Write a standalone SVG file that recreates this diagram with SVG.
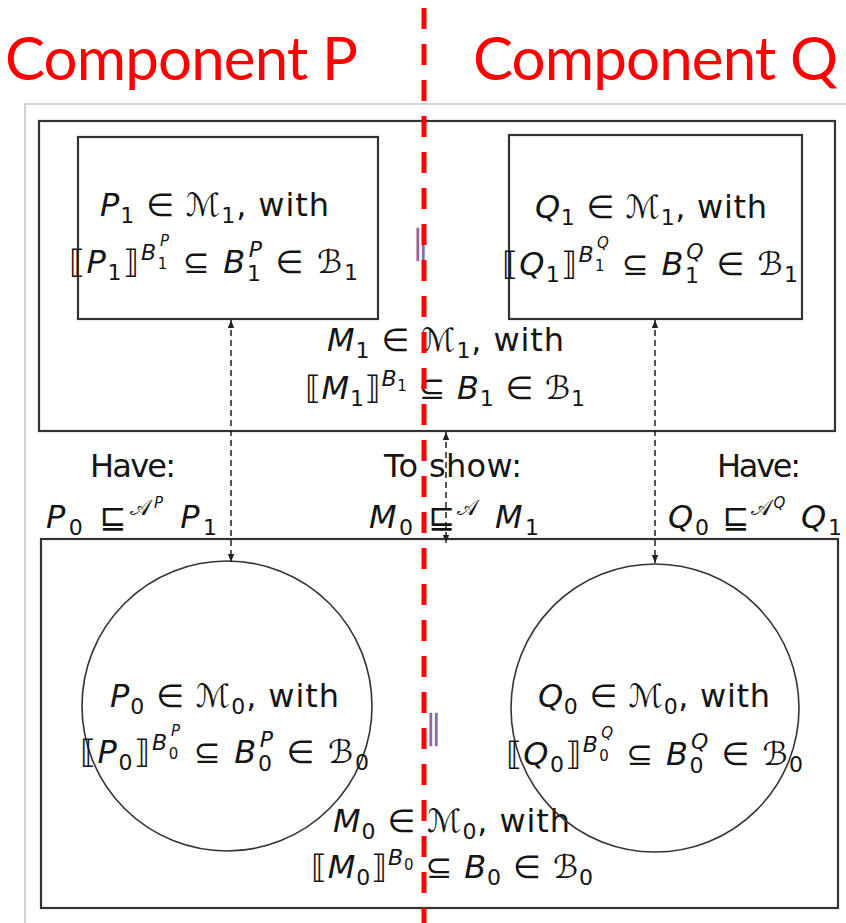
<svg xmlns="http://www.w3.org/2000/svg" width="846" height="923" viewBox="0 0 846 923">
<style>
.frame{fill:none;stroke:#c4c4c4;stroke-width:1.5}
.box{fill:none;stroke:#333;stroke-width:2.2}
.circ{fill:none;stroke:#333;stroke-width:1.6}
.m{font-family:"DejaVu Sans",sans-serif;font-size:32px;fill:#151515}
.i{font-style:italic}
.s{font-size:22px}
.ss{font-size:15px}
.title{font-family:Lato,"Open Sans",sans-serif;font-size:60px;fill:#ff0000}
.par{font-family:"DejaVu Sans",sans-serif;font-size:34px;fill:#8468a8}
.arr{stroke:#222;stroke-width:1.5;stroke-dasharray:6 4;fill:none}
.red{stroke:#ff0000;stroke-width:5;stroke-dasharray:21 15;fill:none}
</style>
<defs>
<marker id="ah" viewBox="0 0 10 10" refX="10" refY="5" markerWidth="10" markerHeight="8" orient="auto-start-reverse" markerUnits="userSpaceOnUse"><path d="M0,1 L10,5 L0,9 z" fill="#222"/></marker>
</defs>
<rect width="846" height="923" fill="#fff"/>
<path class="frame" d="M25,923 V104 H846"/>

<g id="titleP"><text class="title" x="5" y="80" textLength="353">Component P</text></g>
<g id="titleQ"><text class="title" x="473" y="80" textLength="365">Component Q</text></g>

<g id="M1box">
<rect class="box" x="39" y="121" width="796" height="310"/>
<text class="m" x="327" y="351" textLength="237"><tspan class="i">M</tspan><tspan class="s" dy="7">1</tspan><tspan dy="-7"> ∈ ℳ</tspan><tspan class="s" dy="7">1</tspan><tspan dy="-7">, with</tspan></text>
<text class="m" x="305" y="399" textLength="280">⟦<tspan class="i">M</tspan><tspan class="s" dy="7">1</tspan><tspan dy="-7">⟧</tspan><tspan class="i s" dy="-13">B</tspan><tspan class="ss" dy="5">1</tspan><tspan dy="8"> ⊆ </tspan><tspan class="i">B</tspan><tspan class="s" dy="7">1</tspan><tspan dy="-7"> ∈ ℬ</tspan><tspan class="s" dy="7">1</tspan></text>
</g>

<g id="P1">
<rect class="box" x="78" y="137" width="300" height="182"/>
<text class="m" x="100" y="216" textLength="229"><tspan class="i">P</tspan><tspan class="s" dy="7">1</tspan><tspan dy="-7"> ∈ ℳ</tspan><tspan class="s" dy="7">1</tspan><tspan dy="-7">, with</tspan></text>
<text class="m" x="69" y="273" textLength="289">⟦<tspan class="i">P</tspan><tspan class="s" dy="7">1</tspan><tspan dy="-7">⟧</tspan><tspan class="i s" dy="-13">B</tspan><tspan class="ss" dy="9">1</tspan><tspan class="i ss" dx="-9" dy="-23">P</tspan><tspan dy="27"> ⊆ </tspan><tspan class="i">B</tspan><tspan class="s" dy="8">1</tspan><tspan class="i s" dx="-14" dy="-24">P</tspan><tspan dy="16"> ∈ ℬ</tspan><tspan class="s" dy="7">1</tspan></text>
</g>

<g id="Q1">
<rect class="box" x="509" y="135" width="293" height="184"/>
<text class="m" x="535" y="218" textLength="232"><tspan class="i">Q</tspan><tspan class="s" dy="7">1</tspan><tspan dy="-7"> ∈ ℳ</tspan><tspan class="s" dy="7">1</tspan><tspan dy="-7">, with</tspan></text>
<text class="m" x="502" y="275" textLength="296">⟦<tspan class="i">Q</tspan><tspan class="s" dy="7">1</tspan><tspan dy="-7">⟧</tspan><tspan class="i s" dy="-13">B</tspan><tspan class="ss" dy="9">1</tspan><tspan class="i ss" dx="-9" dy="-23">Q</tspan><tspan dy="27"> ⊆ </tspan><tspan class="i">B</tspan><tspan class="s" dy="8">1</tspan><tspan class="i s" dx="-14" dy="-24">Q</tspan><tspan dy="16"> ∈ ℬ</tspan><tspan class="s" dy="7">1</tspan></text>
</g>

<g id="par1"><text class="par" x="412" y="254">∥</text></g>

<g id="haveP">
<text class="m" x="90" y="477" textLength="86">Have:</text>
<text class="m" x="46" y="528" textLength="171"><tspan class="i">P</tspan><tspan class="s" dy="7">0</tspan><tspan dy="-7"> ⊑</tspan><tspan class="s" dy="-13">𝒜</tspan><tspan class="i ss" dy="-7">P</tspan><tspan class="i" dx="14" dy="20">P</tspan><tspan class="s" dy="7">1</tspan></text>
</g>
<g id="toshow">
<text class="m" x="384" y="477" textLength="138">To show:</text>
<text class="m" x="369" y="528" textLength="170"><tspan class="i">M</tspan><tspan class="s" dy="7">0</tspan><tspan dy="-7"> ⊑</tspan><tspan class="s" dy="-13">𝒜</tspan><tspan class="i" dx="14" dy="13">M</tspan><tspan class="s" dy="7">1</tspan></text>
</g>
<g id="haveQ">
<text class="m" x="717" y="477" textLength="84">Have:</text>
<text class="m" x="668" y="528" textLength="174"><tspan class="i">Q</tspan><tspan class="s" dy="7">0</tspan><tspan dy="-7"> ⊑</tspan><tspan class="s" dy="-13">𝒜</tspan><tspan class="i ss" dy="-7">Q</tspan><tspan class="i" dx="14" dy="20">Q</tspan><tspan class="s" dy="7">1</tspan></text>
</g>

<g id="M0box">
<rect class="box" x="41" y="539" width="797" height="369"/>
<text class="m" x="333" y="832" textLength="237"><tspan class="i">M</tspan><tspan class="s" dy="7">0</tspan><tspan dy="-7"> ∈ ℳ</tspan><tspan class="s" dy="7">0</tspan><tspan dy="-7">, with</tspan></text>
<text class="m" x="311" y="878" textLength="282">⟦<tspan class="i">M</tspan><tspan class="s" dy="7">0</tspan><tspan dy="-7">⟧</tspan><tspan class="i s" dy="-13">B</tspan><tspan class="ss" dy="5">0</tspan><tspan dy="8"> ⊆ </tspan><tspan class="i">B</tspan><tspan class="s" dy="7">0</tspan><tspan dy="-7"> ∈ ℬ</tspan><tspan class="s" dy="7">0</tspan></text>
</g>

<g id="P0">
<circle class="circ" cx="227" cy="706" r="145"/>
<text class="m" x="110" y="707" textLength="229"><tspan class="i">P</tspan><tspan class="s" dy="7">0</tspan><tspan dy="-7"> ∈ ℳ</tspan><tspan class="s" dy="7">0</tspan><tspan dy="-7">, with</tspan></text>
<text class="m" x="80" y="763" textLength="289">⟦<tspan class="i">P</tspan><tspan class="s" dy="7">0</tspan><tspan dy="-7">⟧</tspan><tspan class="i s" dy="-13">B</tspan><tspan class="ss" dy="9">0</tspan><tspan class="i ss" dx="-9" dy="-23">P</tspan><tspan dy="27"> ⊆ </tspan><tspan class="i">B</tspan><tspan class="s" dy="8">0</tspan><tspan class="i s" dx="-14" dy="-24">P</tspan><tspan dy="16"> ∈ ℬ</tspan><tspan class="s" dy="7">0</tspan></text>
</g>

<g id="Q0">
<circle class="circ" cx="655" cy="708" r="144"/>
<text class="m" x="538" y="707" textLength="232"><tspan class="i">Q</tspan><tspan class="s" dy="7">0</tspan><tspan dy="-7"> ∈ ℳ</tspan><tspan class="s" dy="7">0</tspan><tspan dy="-7">, with</tspan></text>
<text class="m" x="506" y="765" textLength="297">⟦<tspan class="i">Q</tspan><tspan class="s" dy="7">0</tspan><tspan dy="-7">⟧</tspan><tspan class="i s" dy="-13">B</tspan><tspan class="ss" dy="9">0</tspan><tspan class="i ss" dx="-9" dy="-23">Q</tspan><tspan dy="27"> ⊆ </tspan><tspan class="i">B</tspan><tspan class="s" dy="8">0</tspan><tspan class="i s" dx="-14" dy="-24">Q</tspan><tspan dy="16"> ∈ ℬ</tspan><tspan class="s" dy="7">0</tspan></text>
</g>

<g id="par0"><text class="par" x="425" y="739">∥</text></g>

<g id="connectors">
<line class="arr" x1="231" y1="320" x2="231" y2="562" marker-start="url(#ah)" marker-end="url(#ah)"/>
<line class="arr" x1="655" y1="320" x2="655" y2="563" marker-start="url(#ah)" marker-end="url(#ah)"/>
<line class="arr" x1="446" y1="432" x2="446" y2="543" marker-start="url(#ah)" marker-end="url(#ah)"/>
</g>

<g id="divider"><line class="red" x1="424" y1="8" x2="424" y2="923"/></g>
</svg>
